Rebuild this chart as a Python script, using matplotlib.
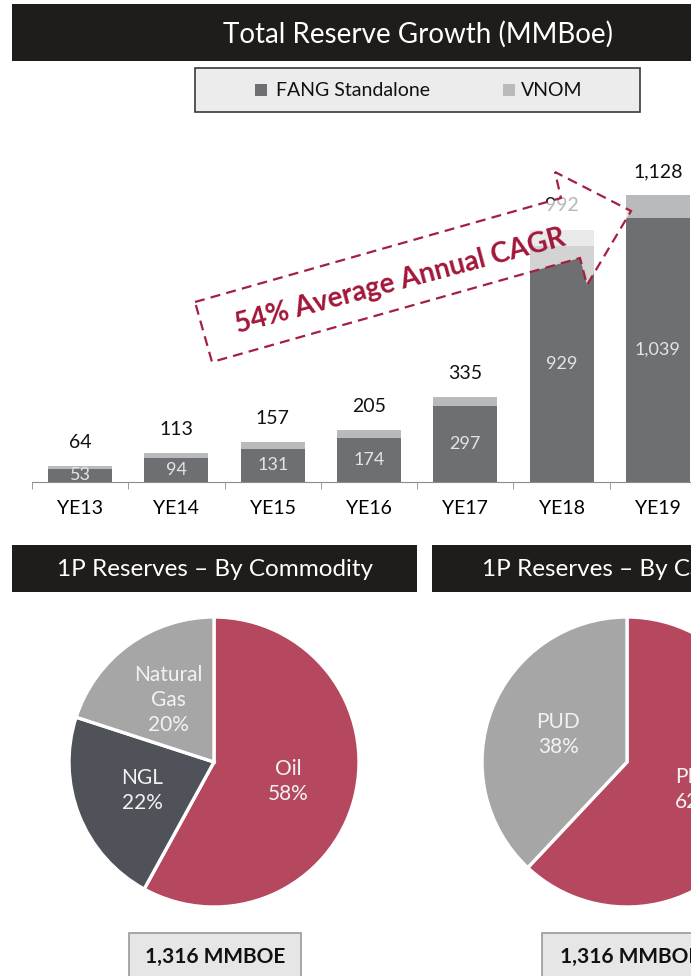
import matplotlib
matplotlib.use('Agg')
import numpy as np
import matplotlib.pyplot as plt
from matplotlib.patches import Rectangle, Polygon

# data
years = ['YE13', 'YE14', 'YE15', 'YE16', 'YE17', 'YE18', 'YE19']
fang = [53, 94, 131, 174, 297, 929, 1039]
total = [64, 113, 157, 205, 335, 992, 1128]
vnom = [t - f for t, f in zip(total, fang)]

commodity_labels = ['Oil', 'NGL', 'Natural\nGas']
commodity_pct = [58, 22, 20]
category_labels = ['PDP', 'PUD']
category_pct = [62, 38]
reserves_text = '1,316 MMBOE'
cagr_text = '54% Average Annual CAGR'

DARK = '#6e6f72'
LIGHT = '#b9babc'
RED = '#b5485f'
HEAD = '#1f1c19'

plt.rcParams['font.family'] = ['Lato', 'DejaVu Sans']

W, H = 691, 976
fig = plt.figure(figsize=(W / 100, H / 100), dpi=100)


def fx(x):
    return x / W


def fy(y):
    return 1 - y / H


def rect(x0, y0, x1, y1, **kw):
    fig.patches.append(Rectangle((fx(x0), fy(y1)), (x1 - x0) / W, (y1 - y0) / H,
                                 transform=fig.transFigure, **kw))


# header bars
rect(12, 4, 691, 61, fc=HEAD, ec='none')
fig.text(fx(418), fy(34), 'Total Reserve Growth (MMBoe)', color='white',
         fontsize=20, ha='center', va='center')
rect(195, 68, 640, 112, fc='#ececec', ec='#3a3a3a', lw=1.2)
rect(255, 84, 267, 96, fc=DARK, ec='none')
fig.text(fx(276), fy(90), 'FANG Standalone', fontsize=14, va='center', color='#111111')
rect(503, 84, 515, 96, fc=LIGHT, ec='none')
fig.text(fx(521), fy(90), 'VNOM', fontsize=14, va='center', color='#111111')

# bar chart
scale = (482 - 195) / 1128.0
ax = fig.add_axes([fx(32), fy(482), 674 / W, (482 - 130) / H])
x = np.arange(len(years))
ax.bar(x, fang, width=0.665, color=DARK, zorder=2)
ax.bar(x, vnom, bottom=fang, width=0.665, color=LIGHT, zorder=2)
for i in range(len(years)):
    ax.annotate('{:,}'.format(total[i]), (x[i], total[i]), xytext=(0, 17),
                textcoords='offset points', ha='center', va='center',
                fontsize=14, color='#111111')
    ax.text(x[i], fang[i] / 2, '{:,}'.format(fang[i]), ha='center', va='center',
            fontsize=13, color='#e4e4e4', zorder=3)
ax.set_xlim(-0.5, 6.5)
ax.set_ylim(0, (482 - 130) / scale)
ax.set_xticks(x)
ax.set_xticklabels(years, fontsize=14)
ax.set_xticks(np.arange(-0.5, 7, 1), minor=True)
ax.tick_params(axis='x', which='major', length=0, pad=13)
ax.tick_params(axis='x', which='minor', length=5, color='#8c8c8c', direction='out')
ax.set_yticks([])
for s in ['top', 'right', 'left']:
    ax.spines[s].set_visible(False)
ax.spines['bottom'].set_color('#8c8c8c')

# CAGR arrow (annotation, drawn over the bars)
arrow_px = [(195, 302), (561, 198), (555, 172), (631, 211), (587, 285), (580, 258), (212, 362)]
arrow = Polygon([(fx(a), fy(b)) for a, b in arrow_px], closed=True, transform=fig.transFigure,
                fc=(1, 1, 1, 0.7), ec='#a3203f', lw=1.6, linestyle=(0, (4.5, 2.8)), zorder=5)
fig.patches.append(arrow)
fig.text(fx(400), fy(281), cagr_text, rotation=15, rotation_mode='anchor',
         ha='center', va='center', fontsize=20, fontweight='bold', color='#a1173a', zorder=6)

# bottom headers
rect(12, 545, 417, 592, fc=HEAD, ec='none')
fig.text(fx(215), fy(569), '1P Reserves \u2013 By Commodity', color='white',
         fontsize=17.5, ha='center', va='center')
rect(432, 545, 700, 592, fc=HEAD, ec='none')
fig.text(fx(482), fy(569), '1P Reserves \u2013 By Category', color='white',
         fontsize=17.5, ha='left', va='center')


def draw_pie(cx, cy, r, vals, labels, colors, dist):
    pax = fig.add_axes([fx(cx - r), fy(cy + r), 2 * r / W, 2 * r / H])
    wedges, _ = pax.pie(vals, colors=colors, startangle=90, counterclock=False,
                        wedgeprops=dict(edgecolor='white', linewidth=2.4))
    for w, lab, v in zip(wedges, labels, vals):
        ang = np.deg2rad((w.theta1 + w.theta2) / 2)
        pax.text(dist * np.cos(ang), dist * np.sin(ang), '{}\n{}%'.format(lab, v),
                 ha='center', va='center', fontsize=15, color='#f2f2f2', linespacing=1.3)
    pax.set_xlim(-1, 1)
    pax.set_ylim(-1, 1)
    pax.axis('off')


draw_pie(214, 762, 145, commodity_pct, commodity_labels, [RED, '#4f5258', '#a6a6a6'], 0.53)
draw_pie(627, 762, 145, category_pct, category_labels, [RED, '#a6a6a6'], 0.51)

# total boxes
rect(129, 933, 301, 990, fc='#e6e6e6', ec='#9a9a9a', lw=1.2)
fig.text(fx(215), fy(957), reserves_text, fontsize=15, fontweight='bold',
         ha='center', va='center', color='#111111')
rect(542, 933, 720, 990, fc='#e6e6e6', ec='#9a9a9a', lw=1.2)
fig.text(fx(560), fy(957), reserves_text, fontsize=15, fontweight='bold',
         ha='left', va='center', color='#111111')

fig.savefig('out.png', dpi=100)
